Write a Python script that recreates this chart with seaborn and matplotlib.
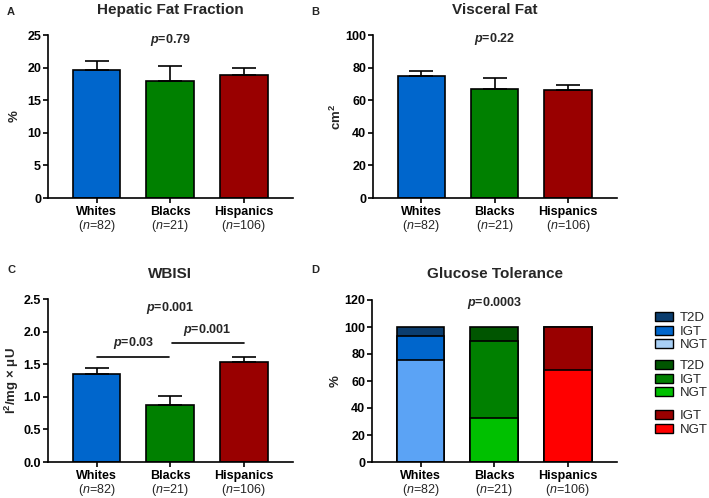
import matplotlib
matplotlib.use("Agg")
import matplotlib.pyplot as plt
import matplotlib.patches as mpatches
import seaborn as sns
import pandas as pd
import numpy as np

# ---------------- data ----------------
groups = ["Whites", "Blacks", "Hispanics"]
group_n_tex = [r"($\mathit{n}$=82)", r"($\mathit{n}$=21)", r"($\mathit{n}$=106)"]
group_colors = ["#0066CC", "#008000", "#990000"]

hff_mean = [19.6, 17.9, 18.8]
hff_sem = [1.4, 2.4, 1.1]

vat_mean = [74.8, 67.0, 66.2]
vat_sem = [3.3, 6.6, 3.1]

wbisi_mean = [1.35, 0.88, 1.53]
wbisi_sem = [0.09, 0.13, 0.08]

# glucose tolerance (% of participants)
gt_ngt = [75.6, 32.4, 68.1]
gt_igt = [17.9, 57.2, 31.9]
gt_t2d = [6.5, 10.4, 0.0]
gt_colors_ngt = ["#5BA3F5", "#00C000", "#FF0000"]
gt_colors_igt = ["#0066CC", "#008000", "#990000"]
gt_colors_t2d = ["#0B3D6E", "#005500", "#990000"]
legend_ngt_white = "#A8CFF5"

p_texts = {"A": "0.79", "B": "0.22", "C": "0.001", "D": "0.0003"}
bracket_texts = ["0.03", "0.001"]

# ---------------- style ----------------
sns.set_theme(style="ticks")
plt.rcParams["font.family"] = ["Liberation Sans", "DejaVu Sans"]
plt.rcParams["mathtext.fontset"] = "custom"
plt.rcParams["mathtext.rm"] = "Liberation Sans"
plt.rcParams["mathtext.it"] = "Liberation Sans:italic"
plt.rcParams["mathtext.bf"] = "Liberation Sans:bold"
plt.rcParams["mathtext.bfit"] = "Liberation Sans:italic:bold"
plt.rcParams["axes.linewidth"] = 1.2
plt.rcParams["xtick.major.width"] = 1.2
plt.rcParams["ytick.major.width"] = 1.2
plt.rcParams["xtick.major.size"] = 3.5
plt.rcParams["ytick.major.size"] = 3.5
plt.rcParams["xtick.color"] = "black"
plt.rcParams["ytick.color"] = "black"
plt.rcParams["axes.edgecolor"] = "black"

W, H = 709, 498
fig = plt.figure(figsize=(W / 100, H / 100), dpi=100)


def px_axes(left, top, right, bottom):
    return fig.add_axes([left / W, 1 - bottom / H, (right - left) / W, (bottom - top) / H])


axA = px_axes(48, 35, 293, 198)
axB = px_axes(373, 35, 617, 198)
axC = px_axes(48, 299, 293, 462)
axD = px_axes(372, 300, 617, 462)

BAR_W = 0.65
XLIM = (-0.66, 2.67)
FS = 9


def style_axis(ax, ymax, ystep, ylabel, fmt=None, labx=-0.135):
    sns.despine(ax=ax)
    ax.set_xlim(*XLIM)
    ax.set_ylim(0, ymax)
    ax.set_yticks(np.arange(0, ymax + ystep / 2, ystep))
    if fmt:
        ax.set_yticklabels([fmt.format(v) for v in np.arange(0, ymax + ystep / 2, ystep)])
    ax.set_xticks(range(len(groups)))
    ax.set_xticklabels(groups, fontweight="bold", fontsize=FS)
    for lab in ax.get_yticklabels():
        lab.set_fontweight("bold")
        lab.set_fontsize(FS)
    ax.tick_params(axis="x", pad=2.5)
    ax.tick_params(axis="y", pad=1.5)
    ax.set_xlabel("")
    ax.set_ylabel(ylabel, fontweight="bold", fontsize=FS + 0.5)
    ax.yaxis.set_label_coords(labx, 0.5)
    for i, t in enumerate(group_n_tex):
        ax.annotate(t, xy=(i, 0), xycoords=("data", "axes fraction"),
                    xytext=(0, -20), textcoords="offset points",
                    ha="center", va="center", fontsize=FS)


def bar_panel(ax, means, sems):
    df = pd.DataFrame({"group": groups, "value": means})
    sns.barplot(data=df, x="group", y="value", hue="group", palette=group_colors,
                dodge=False, legend=False, width=BAR_W, edgecolor="black",
                linewidth=1.2, errorbar=None, ax=ax, saturation=1)
    ax.errorbar(range(len(groups)), means, yerr=[np.zeros(len(sems)), sems],
                fmt="none", ecolor="black", elinewidth=1.2, capsize=8.5,
                capthick=1.2, zorder=1)


def ptext(ax, x, y, val, fs=FS):
    ax.text(x, y, r"$\mathbfit{p}$=" + val, ha="center", va="center",
            fontsize=fs, fontweight="bold")


# Panel A
bar_panel(axA, hff_mean, hff_sem)
style_axis(axA, 25, 5, "%", labx=-0.11)
ptext(axA, 1, 24.3, p_texts["A"])

# Panel B
bar_panel(axB, vat_mean, vat_sem)
style_axis(axB, 100, 20, r"cm$^{\mathbf{2}}$", labx=-0.12)
ptext(axB, 1, 97.5, p_texts["B"])

# Panel C
bar_panel(axC, wbisi_mean, wbisi_sem)
style_axis(axC, 2.5, 0.5, r"l$^{\mathbf{2}}$/mg × μU", fmt="{:.1f}", labx=-0.11)
ptext(axC, 1, 2.36, p_texts["C"])
axC.plot([0, 0.98], [1.614, 1.614], color="black", lw=1.2)
axC.plot([1.03, 2.0], [1.824, 1.824], color="black", lw=1.2)
ptext(axC, 0.5, 1.83, bracket_texts[0])
ptext(axC, 1.5, 2.02, bracket_texts[1])

# Panel D: stacked bars drawn as cumulative layers
cum_t2d = [a + b + c for a, b, c in zip(gt_ngt, gt_igt, gt_t2d)]
cum_igt = [a + b for a, b in zip(gt_ngt, gt_igt)]
layers = [(cum_t2d, gt_colors_t2d), (cum_igt, gt_colors_igt), (gt_ngt, gt_colors_ngt)]
for vals, cols in layers:
    df = pd.DataFrame({"group": groups, "value": vals})
    sns.barplot(data=df, x="group", y="value", hue="group", palette=cols,
                dodge=False, legend=False, width=BAR_W, edgecolor="black",
                linewidth=1.2, errorbar=None, ax=axD, saturation=1)
style_axis(axD, 120, 20, "%", labx=-0.125)
ptext(axD, 1, 118, p_texts["D"])

# legends
leg_sets = [
    (["T2D", "IGT", "NGT"], [gt_colors_t2d[0], gt_colors_igt[0], legend_ngt_white], 312),
    (["T2D", "IGT", "NGT"], [gt_colors_t2d[1], gt_colors_igt[1], gt_colors_ngt[1]], 360),
    (["IGT", "NGT"], [gt_colors_igt[2], gt_colors_ngt[2]], 410),
]
for labels, cols, ytop in leg_sets:
    handles = [mpatches.Patch(facecolor=c, edgecolor="black", linewidth=1.0) for c in cols]
    fig.legend(handles, labels, loc="upper left", bbox_to_anchor=(655 / W, 1 - ytop / H),
               frameon=False, fontsize=FS + 0.5, handlelength=1.35, handleheight=0.7,
               labelspacing=0.1, handletextpad=0.5, borderpad=0, borderaxespad=0)

# titles and panel letters
titles = [("Hepatic Fat Fraction", 170, 10), ("Visceral Fat", 495, 10),
          ("WBISI", 170, 274), ("Glucose Tolerance", 495, 274)]
for t, x, y in titles:
    fig.text(x / W, 1 - y / H, t, ha="center", va="center", fontsize=11, fontweight="bold")
letters = [("A", 11, 12), ("B", 315, 12), ("C", 11, 270), ("D", 315, 270)]
for t, x, y in letters:
    fig.text(x / W, 1 - y / H, t, ha="center", va="center", fontsize=8, fontweight="bold")

fig.savefig("out.png", dpi=100)
